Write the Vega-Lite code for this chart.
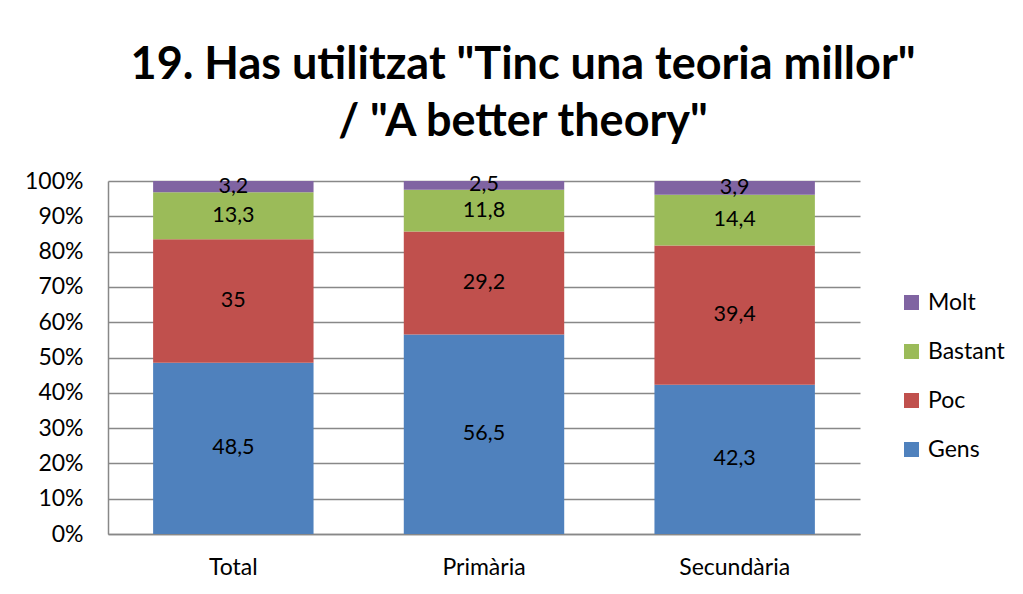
{
  "$schema": "https://vega.github.io/schema/vega-lite/v6.json",
  "width": 752,
  "height": 353,
  "autosize": {"type": "none"},
  "padding": {"left": 108, "top": 181, "right": 163, "bottom": 60},
  "background": "white",
  "config": {
    "font": "Lato",
    "view": {"stroke": null},
    "locale": {"number": {"decimal": ",", "thousands": ".", "grouping": [3], "currency": ["", " €"]}},
    "axisY": {
      "title": null,
      "values": [0, 10, 20, 30, 40, 50, 60, 70, 80, 90, 100],
      "labelExpr": "datum.value + '%'",
      "labelOverlap": false,
      "labelFontSize": 23,
      "labelColor": "#000000",
      "labelPadding": 25,
      "ticks": false,
      "grid": true,
      "gridColor": "#888888",
      "gridWidth": 1.5,
      "domainColor": "#888888",
      "domainWidth": 1.5
    }
  },
  "title": {
    "text": ["19. Has utilitzat \"Tinc una teoria millor\"", "/ \"A better theory\""],
    "font": "Lato",
    "fontSize": 45,
    "fontWeight": "bold",
    "color": "#000000",
    "anchor": "middle",
    "frame": "group",
    "dx": 39,
    "lineHeight": 57,
    "offset": 25
  },
  "data": {
    "values": [
      {"grupo": "Total", "cat": "Gens", "v": 48.5, "k": 1},
      {"grupo": "Total", "cat": "Poc", "v": 35, "k": 2},
      {"grupo": "Total", "cat": "Bastant", "v": 13.3, "k": 3},
      {"grupo": "Total", "cat": "Molt", "v": 3.2, "k": 4},
      {"grupo": "Primària", "cat": "Gens", "v": 56.5, "k": 1},
      {"grupo": "Primària", "cat": "Poc", "v": 29.2, "k": 2},
      {"grupo": "Primària", "cat": "Bastant", "v": 11.8, "k": 3},
      {"grupo": "Primària", "cat": "Molt", "v": 2.5, "k": 4},
      {"grupo": "Secundària", "cat": "Gens", "v": 42.3, "k": 1},
      {"grupo": "Secundària", "cat": "Poc", "v": 39.4, "k": 2},
      {"grupo": "Secundària", "cat": "Bastant", "v": 14.4, "k": 3},
      {"grupo": "Secundària", "cat": "Molt", "v": 3.9, "k": 4}
    ]
  },
  "encoding": {
    "x": {
      "field": "grupo",
      "type": "nominal",
      "sort": ["Total", "Primària", "Secundària"],
      "scale": {"paddingInner": 0.36, "paddingOuter": 0.18},
      "axis": {
        "title": null,
        "labelAngle": 0,
        "labelFontSize": 23,
        "labelColor": "#000000",
        "labelPadding": 22,
        "ticks": false,
        "domainColor": "#888888",
        "domainWidth": 1.5
      }
    }
  },
  "layer": [
    {
      "mark": {"type": "bar"},
      "encoding": {
        "y": {
          "field": "v",
          "type": "quantitative",
          "stack": "zero",
          "scale": {"domain": [0, 100], "nice": false}
        },
        "color": {
          "field": "cat",
          "type": "nominal",
          "scale": {
            "domain": ["Molt", "Bastant", "Poc", "Gens"],
            "range": ["#8064A2", "#9BBB59", "#C0504D", "#4F81BD"]
          },
          "legend": {
            "title": null,
            "orient": "none",
            "legendX": 792,
            "legendY": 110,
            "symbolType": "square",
            "symbolSize": 225,
            "symbolStrokeWidth": 0,
            "labelFontSize": 23,
            "labelColor": "#000000",
            "labelOffset": 5,
            "rowPadding": 25
          }
        },
        "order": {"field": "k", "type": "quantitative", "sort": "ascending"}
      }
    },
    {
      "mark": {"type": "text", "fontSize": 21.5, "color": "#000000", "baseline": "middle"},
      "encoding": {
        "y": {"field": "v", "type": "quantitative", "stack": "zero", "bandPosition": 0.5},
        "text": {"field": "v", "type": "quantitative", "format": "~g"},
        "detail": {"field": "cat"},
        "order": {"field": "k", "type": "quantitative", "sort": "ascending"}
      }
    }
  ]
}
